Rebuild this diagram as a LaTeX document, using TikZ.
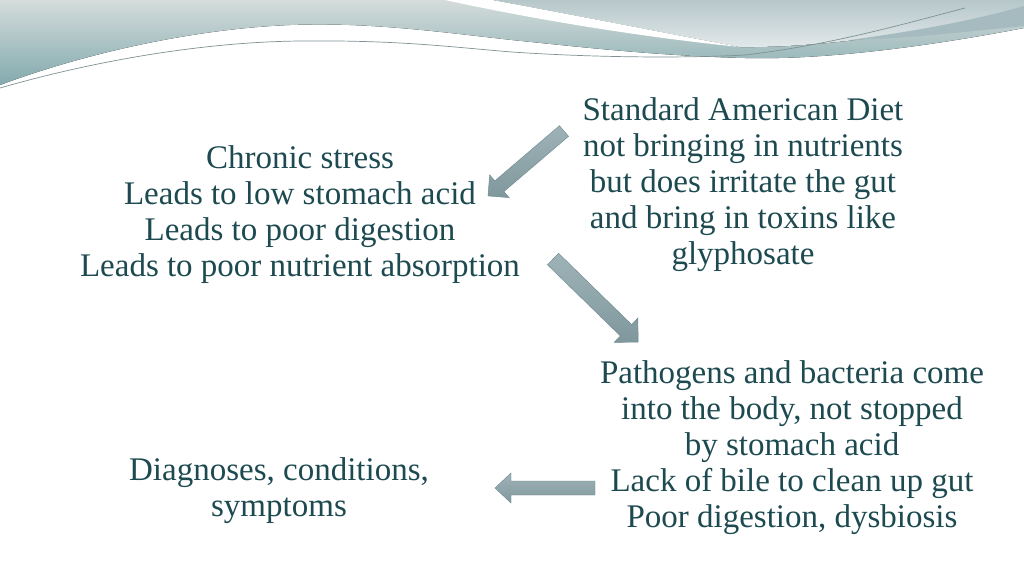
\documentclass[tikz,border=0pt]{standalone}
\usepackage{fontspec}
\setmainfont{Liberation Serif}
\usepackage{xcolor}
\usepackage{tikz}

\definecolor{slatetext}{HTML}{1D4A50}
\definecolor{swooshtop}{HTML}{D5DCDB}
\definecolor{swooshlow}{HTML}{82AAAE}
\definecolor{swooshlight}{HTML}{E3E9EA}
\definecolor{swooshmid}{HTML}{B6C7CA}
\definecolor{swooshdark}{HTML}{A6BBBF}
\definecolor{swooshline}{HTML}{7E9193}
\definecolor{arrowfill}{HTML}{86A0A5}
\definecolor{arrowedge}{HTML}{6C878D}

\begin{document}
\begin{tikzpicture}[x=1pt, y=-1pt,
  txt/.style={text=slatetext, align=center, font=\fontsize{33}{36}\selectfont},
  blockarrow/.style={draw=arrowedge, thin, top color=arrowfill!80!white, bottom color=arrowfill!95!black}]
	\useasboundingbox (0,0) rectangle (1024,576);
	% top swoosh
	\fill[top color=swooshtop, bottom color=swooshlow] (0,0) -- (1024,0) -- (1024,28) .. controls (920,48) and (820,60) .. (745,58) .. controls (660,56) and (580,47) .. (512,40) .. controls (440,32) and (370,22) .. (290,25) .. controls (190,29) and (80,55) .. (0,85) -- cycle;
	\fill[top color=swooshmid, bottom color=swooshlight] (492,0) -- (1024,0) -- (1024,8) .. controls (940,30) and (830,48) .. (740,47) .. controls (680,36) and (590,18) .. (492,0) -- cycle;
	\fill[white] (445,0) -- (492,0) .. controls (590,18) and (680,36) .. (740,47) .. controls (670,40) and (560,25) .. (445,0) -- cycle;
	\fill[swooshdark] (1024,6) .. controls (960,24) and (900,33) .. (850,40) .. controls (920,38) and (980,30) .. (1024,26) -- cycle;
	\draw[swooshline, line width=0.7pt] (0,88) .. controls (90,62) and (200,42) .. (300,41) .. controls (400,40) and (450,47) .. (512,52) .. controls (600,58) and (690,58) .. (745,55) .. controls (830,45) and (900,25) .. (965,8);

	% texts
	\node[txt] (stress) at (300,215) {Chronic stress\\Leads to low stomach acid\\Leads to poor digestion\\Leads to poor nutrient absorption};
	\node[txt] (diet) at (743,185) {Standard American Diet\\not bringing in nutrients\\but does irritate the gut\\and bring in toxins like\\glyphosate};
	\node[txt] (pathogens) at (792,448) {Pathogens and bacteria come\\into the body, not stopped\\by stomach acid\\Lack of bile to clean up gut\\Poor digestion, dysbiosis};
	\node[txt] (diagnoses) at (279,491) {Diagnoses, conditions,\\symptoms};

	% arrows (tail points)
	\coordinate (diettail) at (564,131);
	\coordinate (stresstail) at (553,259);
	\coordinate (pathogentail) at (595,488);
	\begin{scope}[shift={(diettail)}, rotate=220.5]
		\path[blockarrow] (0,-7) -- (85,-7) -- (85,-15) -- (100,0) -- (85,15) -- (85,7) -- (0,7) -- cycle;
	\end{scope}
	\begin{scope}[shift={(stresstail)}, rotate=-44.3]
		\path[blockarrow] (0,-8) -- (102,-8) -- (102,-17) -- (119,0) -- (102,17) -- (102,8) -- (0,8) -- cycle;
	\end{scope}
	\begin{scope}[shift={(pathogentail)}, rotate=180]
		\path[blockarrow] (0,-7) -- (84,-7) -- (84,-15) -- (100,0) -- (84,15) -- (84,7) -- (0,7) -- cycle;
	\end{scope}
\end{tikzpicture}
\end{document}
